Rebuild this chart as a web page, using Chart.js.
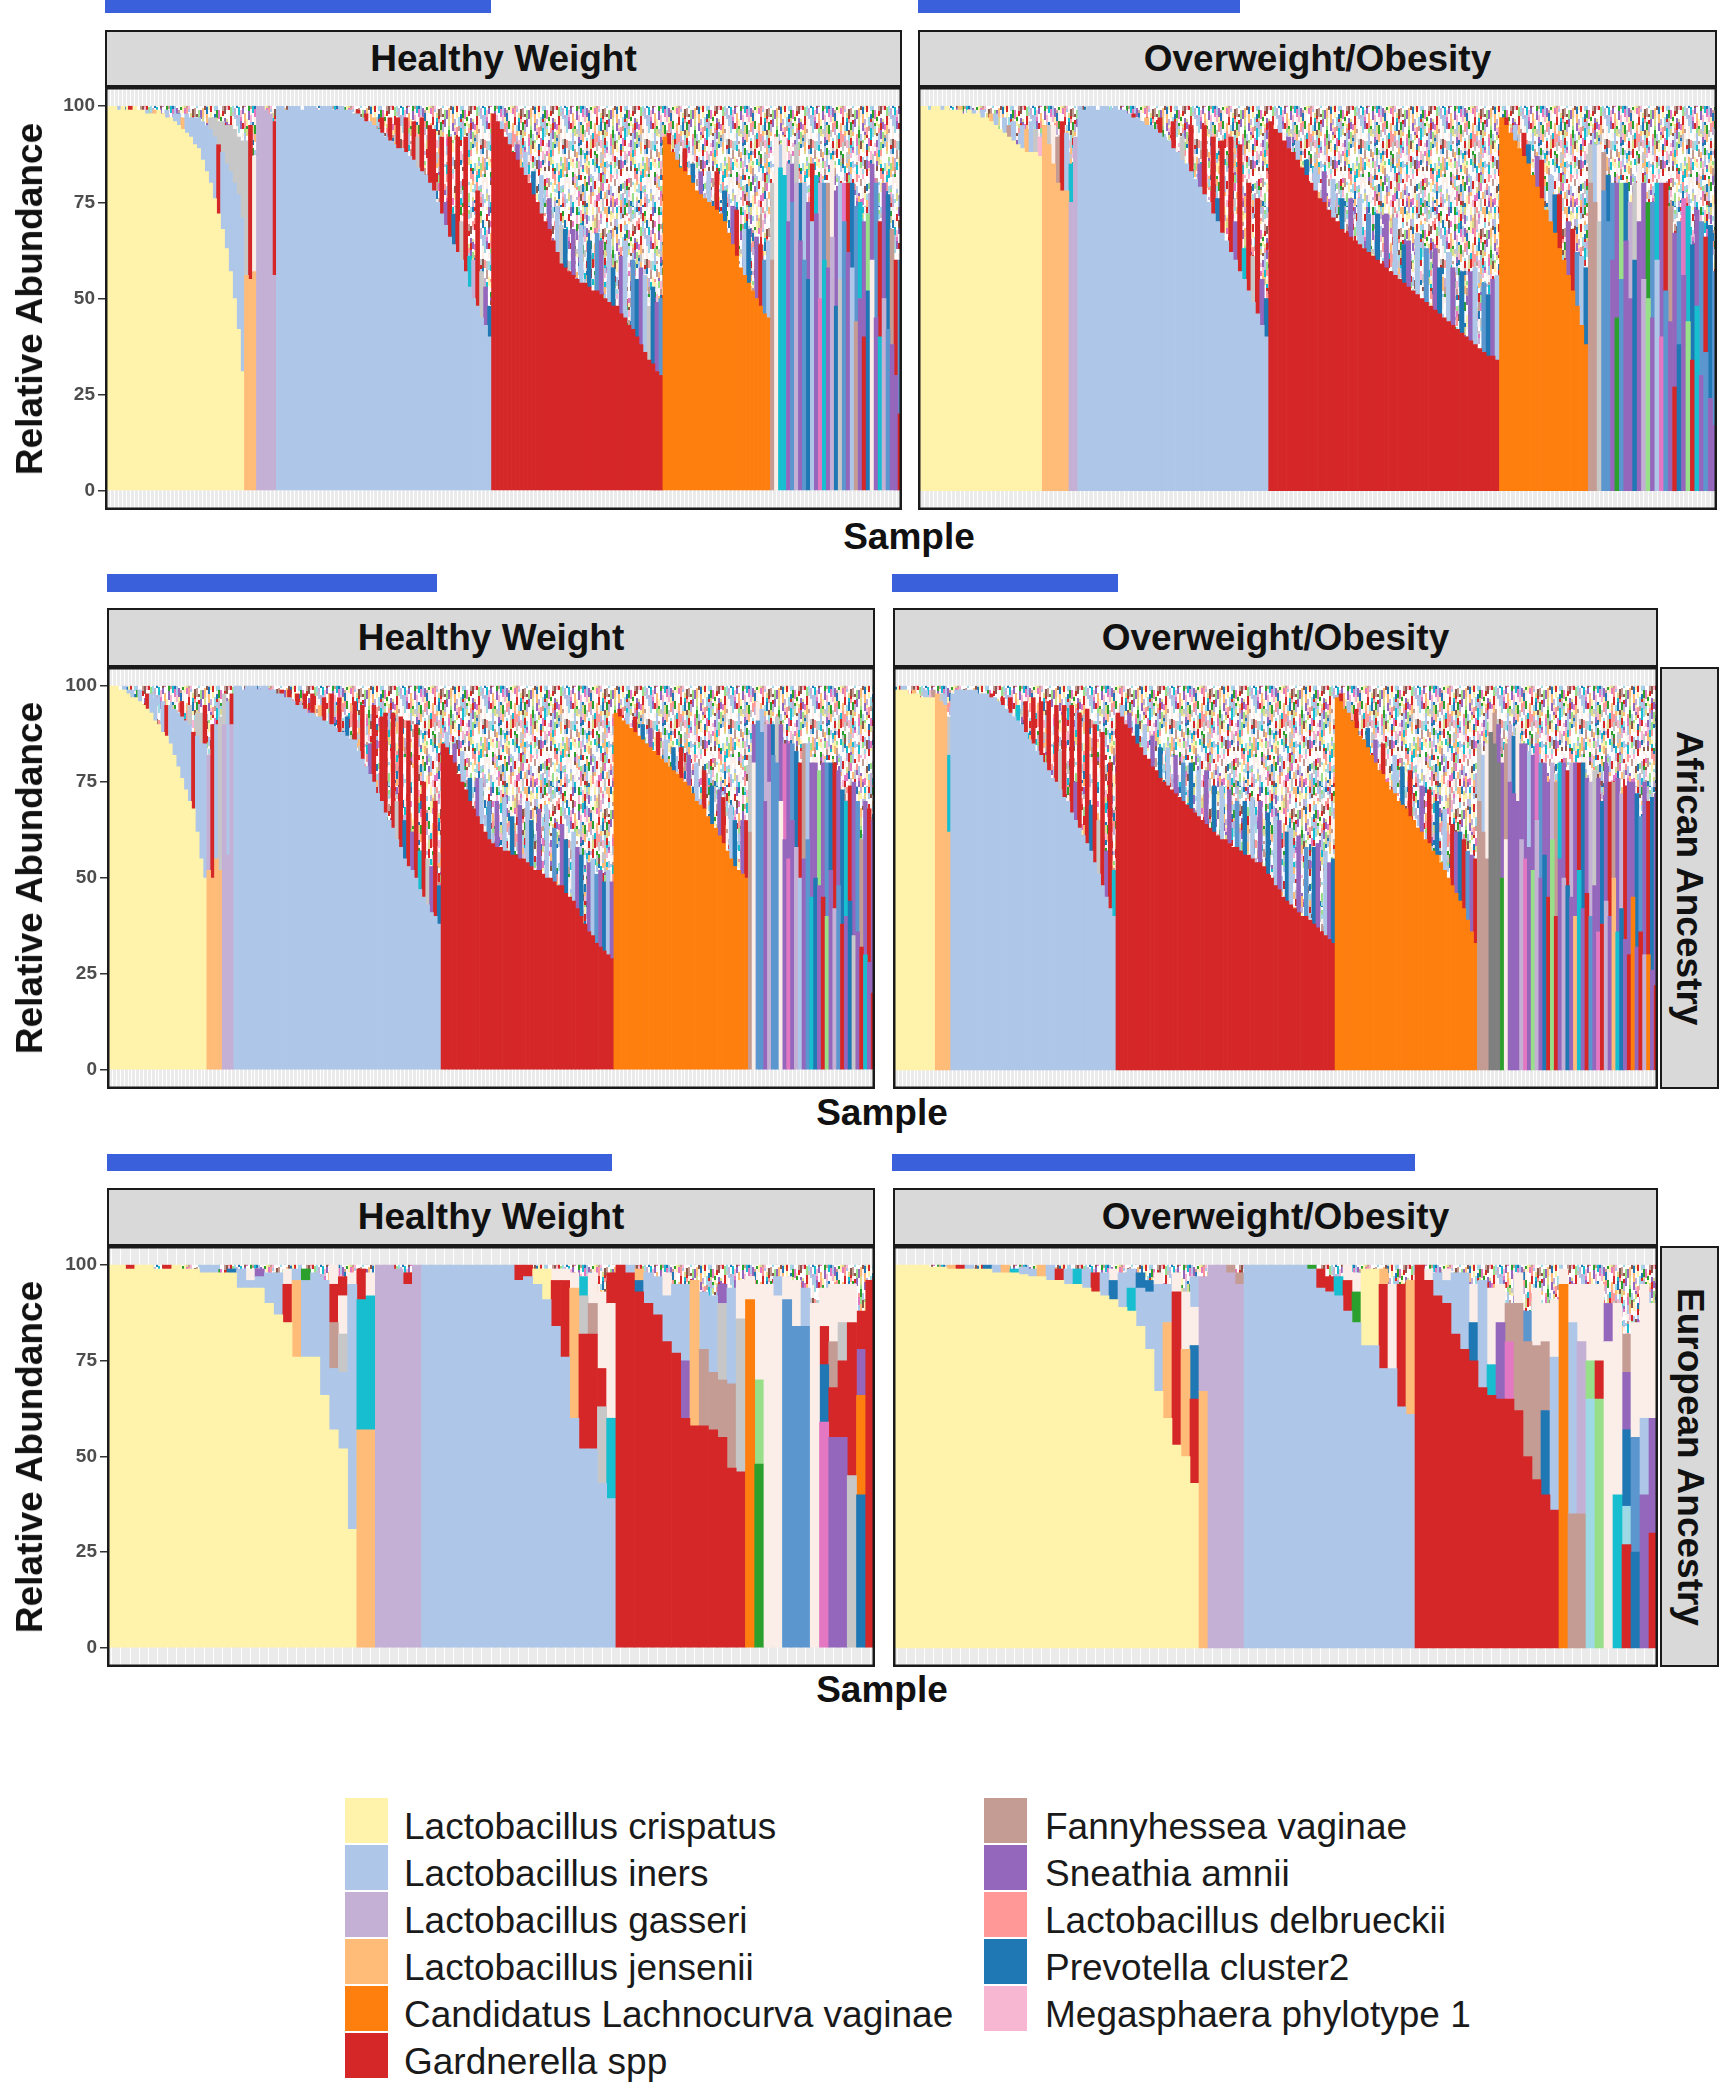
<!DOCTYPE html>
<html lang="en">
<head>
<meta charset="UTF-8">
<title>Relative abundance by BMI group and ancestry</title>
<script src="https://cdn.jsdelivr.net/npm/chart.js"></script>
<style>
  body { margin: 0; background: #fff; font-family: 'Liberation Sans', Arial, sans-serif; }
  #page { position: relative; width: 1735px; height: 2100px; overflow: hidden; }
  canvas { position: absolute; }
  .blue { position: absolute; background: #3b60dc; }
  .strip {
    position: absolute; box-sizing: border-box; background: #d9d9d9;
    border: 2.5px solid #1a1a1a; font-weight: bold; font-size: 37px; color: #111;
    display: flex; align-items: center; justify-content: center; white-space: nowrap;
  }
  .strip.side span { transform: rotate(90deg); display: block; }
  .ytitle { position: absolute; font-weight: bold; font-size: 37px; color: #111; white-space: nowrap;
    transform: translate(-50%, -50%) rotate(-90deg); }
  .xtitle { position: absolute; font-weight: bold; font-size: 37px; color: #111; white-space: nowrap;
    transform: translate(-50%, -50%); }
  .sw { position: absolute; width: 43px; height: 45px; }
  .lt { position: absolute; font-size: 37px; color: #1a1a1a; white-space: nowrap; transform: translateY(-50%); }
</style>
</head>
<body>
<div id="page"></div>
<script>
// species shown in the legend (code letter used in the sample strings below)
const speciesCodes = ['C', 'I', 'A', 'J', 'L', 'V', 'F', 'S', 'D', 'P', 'M'];
const speciesNames = [
  'Lactobacillus crispatus', 'Lactobacillus iners', 'Lactobacillus gasseri',
  'Lactobacillus jensenii', 'Candidatus Lachnocurva vaginae', 'Gardnerella spp',
  'Fannyhessea vaginae', 'Sneathia amnii', 'Lactobacillus delbrueckii',
  'Prevotella cluster2', 'Megasphaera phylotype 1'
];
// minor taxa that appear in the bars but not in the legend
const minorCodes = ['c', 'q', 'g', 'l', 'k', 'K', 'p', 'o', 'b', 'w', 'n'];

const facetCols = ['Healthy Weight', 'Overweight/Obesity'];
const facetRows = ['', 'African Ancestry', 'European Ancestry'];
const yTicks = [0, 25, 50, 75, 100];

// one token per sample, segments "code+value" from the bottom up; the rest to 100 is other taxa
const allHealthy = `
C100 C100 C100 C99+I1 C100 C99 C99+V1 C100 C99 C99 C98+I1 C98 C98+J1 C99 C98 C97+I2 C97 C96+I2
C95+I3 C94+J3 C93+I5 C92+I5 C90+I7 C89+I8 C86+I10 C83+I12 C80+I14+k3 C76+I16+k5 C72+V18+k6
C68+I20+k8 C63+I22+k10 C57+I26+k12 C50+I30+k14 C42+I35+k15 C31+I40+k20
J56+k35 J55+V40 J57+w30 A100 A100 A99 A98 A56+V40
I100 I100 I99 I100 I100 I100 I99 I100 I100 I100 I99 I100 I100 I100 I99 I99 I100 I99
I99 I98 I98+V1 I97 I96+V2 I96 I95+J2 I94 I93+V4 I92 I91+V6 I90 I89+V8 I89
I88+V9 I87 I86+V10 I84+k8 I83+V14 I82 I80+V15 I78+V16 I75 I72+V20 I69+S6 I66+V26 I64+P8 I62+V30
I60+k10 I57+V35 I53+c8 I50+A10 I48+V30 I45+k12 I43+S10 I40+P8
V98 V96 V94+I2 V92 V90+I3 V88 V86+S4 V84 V82+I6 V80 V77+P6 V75 V72+I10 V70
V68+S8 V65 V62+I12 V59+k10 V58+P10 V57 V56+S12 V55 V54+I15 V54 V53+P12 V52 V52+b15
V51+S14 V50 V49+I18 V48+P10 V48 V46+S15 V45+I20 V43 V42+b18
V40+P15 V38+S20 V36+I20 V34+k14 V33+P20 V31+S18 V30+b20
L92 L90+V3 L88 L86+I4 L84 L83+V6 L82 L80+P5 L78 L77+S6 L76 L75+I8 L74 L73+V10 L72 L70+P8
L67 L64+S10 L61+V12 L58 L56+I12 L54+P14 L52 L50+S16 L48+V16 L46+b14 L45+I20
F60+k20 w92 c84+I6 c82+w10 S70+A15 b75+S10 A80+k10 S65+P15 b60+I20 P55+S20 I70+V15 S72+c10
p50+A30 c60+b20 S58+F22 A66+w20 P48+S30 k55+I25 b70+p10 S62+V18 I58+P22 F44+b30 S50+c25
V40+S30 P52+l20 w60+S25 S45+b35 c40+V30 A50+S30 b42+P35 S38+F30 S30+V30 V20+b40`;

const allOverweight = `
C100 C100 C99 C100 C100 C99+I1 C100 C99 C99 C99+J1 C98 C99 C98+I1 C98 C97+I2 C97 C96+J2 C95+I3
C94 C93+I4 C92+F3 C91+I5 C90 C89+I6 C88+J6 C88+I8 C88+k6 C87+M5
J95 J90+k5 J85+w10 J80+F12 J78+V18 J78+I15 A75+c10 A92
I100 I99 I100 I100 I99 I100 I100 I99 I100 I99 I99 I98 I97+V1 I97 I96 I95+J2 I95 I94
I93+V4 I92 I91 I89+V7 I88 I86+k6 I85 I83+V12 I81 I79+S6 I77+V18 I75 I72+V20 I70+P6
I67+V24 I65 I62+V30 I60+S10 I57+V33 I55+c8 I52+V28 I49+k12 I46+V30 I43+S12 I40+P10
V96 V94 V93+I2 V91 V89+S3 V88 V86+I5 V84 V82+P4 V80 V78+I6 V76 V75+S8 V73 V71+I10 V70 V68+P8
V67 V66+S10 V65 V64+I12 V63 V62+b10 V61 V60+P12 V59 V58+S14 V57 V56+I15 V55 V54+P10
V53+S12 V52 V51+I16 V50 V49+b14 V48 V47+S16 V46+P12 V45 V44+I18 V43+S15 V42 V41+P16 V40
V39+S18 V38+I20 V37 V36+b18 V35+P16 V35+S20 V34+I22
L97 L95+V2 L93 L91+I4 L89 L87+V6 L85+P5 L82 L79+S8 L76+V10 L73 L70+I12 L67+P10 L63+V14
L60 L56+S14 L52+V16 L48+b14 L43+I18 L38+P20
F80+k10 F75+I15 k70+w20 b78+F10 b70+P12 S60+b20 g45+S35 b55+l25 S65+P15 S50+A25 P60+k20
S70+w15 A55+S25 l50+g25 S45+b30 I60+c20 p40+S40 b52+V28 S44+F30 V27+S40 P38+b32 S56+p20
l44+c30 V34+P30 c48+S25 S30+b40 b36+V30 S24+P45 S17+b40`;

const africanHealthy = `
C100 C100 C100 C99 C99+I1 C98+I1 C97+I2 C97 C96+I3 C95 C94+V4 C93+I5 C91+I6 C90 C88+I8 C87+V8
C85+I10 C82+I12 C79+I14 C76+I16+V4 C73+I18 C70+I20+k5 C68+V20 C62+I25+k6 C55+I30+k8 C50+I35+V10
J52+A30 J50+V40 J55+I35 J52+k40 A90+k8 A56+I40 A90+V8
I100 I100 I99 I100 I100 I100 I99 I100 I100 I99 I99 I98 I98+V1 I97 I97+V2 I96
I95+V3 I95 I94+V4 I93 I93+V5 I92 I92+J3 I91+V6 I90 I90+V8 I89 I88+V9 I88 I87+P5 I86 I86+V10
I83 I81+V14 I79 I77+S8 I75+V20 I72 I70+V22 I67+V26 I65 I63+V30 I60+k10 I58+V34 I55+P10
I53+V38 I52+S10 I50+V40 I47+c10 I45+V30 I43+k12 I41+S12 I40+V30 I38+P10
V85 V84+I4 V82 V80+S5 V77 V75+I8 V73 V70+P6 V68 V66+S10 V64+I12 V62 V60+b10 V59
V58+S12 V58 V57+I14 V57 V56+P10 V56 V55+S14 V55 V54+I16 V53+P12 V52 V52+S16 V51 V50+I18 V50
V49+b14 V48 V48+S16 V46+P14 V45 V44+I18 V42+S16 V40+P16 V38 V36+S18 V35+I20
V33+b18 V32+S20 V31+P18 V30+I22 V29+S20
L93 L92+V2 L91 L90+I3 L89 L88+V4 L87 L86+P4 L85 L84+S5 L83 L82+V6 L81 L80+I6 L79 L78+P6
L77 L76+V8 L75 L74+S8 L72 L70+I10 L69 L68+V10 L66 L64+P10 L63 L61+S12 L59+V12 L57 L55+I14
L53+P12 L52 L51+S14 L50+V15
F62+k20 w80+S10 b91+w5 b88+I6 S70+A20 A75+S15 b82+P8 b80+k12 w70+S20 S60+p25 p55+S30 S65+b20
A58+P25 I50+V30 S55+F30 b60+I25 c45+S35 P50+S30 S48+l30 V45+S35 l40+b40 S52+P28 A42+V38
b48+S30 V38+P35 S40+c30 P44+V30 k35+S40 S36+b34 V32+F28 c30+S40 S28+V40 V20+S45`;

const africanOverweight = `
C99 C99 C99+I1 C99 C98 C98+J1 C98 C97 C97+I2 C97 C97+F2
J98 J96+k2 J95+I3 J62+c20+k10
I98 I99 I99 I99 I99 I99 I99 I98 I98 I98 I97+V1 I97 I96 I95+V2 I94 I93+V4 I92 I91+c4 I90
I88+V8 I86 I85+V12 I83 I82+V14 I80 I78+V18 I76 I75+V20 I73+k10 I71+V24 I70
I67+V28 I65+S10 I63+V30 I61 I59+V35 I57+P12 I54+V36 I51+k14 I48+V40 I45+S12 I42+V38 I40+c12
V93 V92+I3 V90 V89+S4 V87 V85+P5 V84 V82+I8 V81 V79+S8 V78 V76+P8 V75 V74+I10 V73 V72+S10
V71 V70+b10 V69 V68+P12 V67 V66+I12 V65 V64+S14 V63 V62+P12 V61 V60+I14 V60 V59+S14 V58
V58+b12 V57 V56+P14 V56 V55+I16 V54 V54+S16 V53 V51+P16 V50 V48+I18 V47+S18 V45 V44+P18
V43+I20 V42 V41+S20 V40 V40+b18 V39 V38+P20 V37+S22 V36 V35+I22 V34+S20 V33+P22
L97 L96+V2 L94 L93+I3 L91 L89+V5 L87 L86 L84+P5 L82 L80+S6 L78 L77+V8 L75 L73 L72+I10 L70
L69+P10 L68 L66+V12 L65 L63 L62+S12 L60 L59+V14 L57 L56+P14 L54 L52+I16 L50 L48+V16 L46+S16
L44+P18 L42+V18 L39+b18 L36+S20 L33+V22
F70+k15 F62+I20 F55+w30 K88+w6 K85+F8 K80+S10 g50+S30 w60+F25 S75+A15 S72+P15 S70+w20
A60+S25 p55+S30 S58+I25 l52+S30 A65+p20 S50+b30 P56+S24 V45+S30 l60+A20 V40+F35 S55+c25
A50+S30 P48+V30 S45+A35 J40+S40 c52+V28 S42+P38 V46+S30 b40+A35 S48+k30 p36+S40 V38+P32
A44+S36 S40+V35 J50+F25 c36+S40 P42+A30 S34+V40 V30+S45 L45+S30 S32+P40 V36+b30 A30+S45
L30+V40 S26+P45 V22+S50`;

const europeanHealthy = `
C100 C100 C99+V1 C100 C100 C99 C99+V1 C100 C99 C99 C98+I2 C98+I2 C98 C98+P1 C94+I5 C94+I2+w3
C94+I3+S2 C90+I8 C87+I11 C85+V10+w4 C76+J20+I3 C76+I20+g3 C76+I22 C66+I30 C57+I16+F12+V10+w5
C52+I20+k10+w10+V5 C31+I64+w3
J57+c34+V8 J57+c35+w6 A100 A100 A99 A95+V3 A100
I100 I100 I100 I100 I100 I100 I100 I100 I100 I100 I96+V4 I97+V3 I95+C4 I91+C8 I84+V12+w3
I76+V20+w3 I60+J34+w4 I52+V30+k10+c5 I52+V30+F8+w8 I43+k20+V10+w20 I39+c21+w30+V8
V100 V98+I2 V93+P3+J3 V90+I8 V87+I10 V80+I12+w6 V77+I18 V60+S15+I20 V58+J38 V58+F20+I15
V57+F15+I20 V55+F15+k20+S5 V47+F22+I25 V46+k40+w10
L91+w6 g48+l22+w25 w95 w92+I5 b91+w6 b84+w12 b84+I10 w90 p59+P15+V10+w10 S55+V13+F12+w15
S55+V20+k10+w10 k45+V40+w10 P40+L26+S12+V10 V96`;

const europeanOverweight = `
C100 C100 C100 C100 C99.5 C99.5 C99+J1 C99+V1 C99+I1 C99 C99+P1 C98+I2 C98+J2 C98+c1 C97.5+I2
C97+I2 C97+J3 C96+I4 C96+V3 C95+I4 C95+c4 C94+I5 C93+V5 C92+I6 C91+P5+w3 C89+I9 C88+c6+I5
C84+I10+P4 C78+I15+P3 C67+I28+w3 C60+J25+I10 C53+V40+w5 C50+J28+w15 C43+V22+P14+w10+I8
J67+A30 A100 A100 A98+F2 A95+F3
I100 I100 I100 I100 I100 I100 I100 I99+g1 I94+V5 I93+V4 I92+c5 I88+V8+w4 I85+g8+w5 I79+C20
I79+C20 I73+V22+J4 I73+w22 I63+V32 I61+J35
V100 V96+w3 V92+I6 V90+I6+w3 V82+I16 V78+I20 V75+P10+w10 V68+I28 V66+c8+w20 V65+S20+w10
V65+p15+F10 V62+F28+w8 V50+F30+b8 V44+F35+w15 V40+P22+F18+w10 V36+I40+w15
L95+w4 F35+I50+w10 F35+A45+w15 q65+l10+w20 l65+V10+w20 w80+S10 c40+w50 V27+q10+P20+S15+F10
P25+b30+w30 S40+I20+w35 V30+S30+w30`;

// ---- styles ----
const speciesColors = ['#fff2aa', '#aec7e8', '#c5b0d5', '#ffbb78', '#ff7f0e', '#d62728',
  '#c49c94', '#9467bd', '#ff9896', '#1f77b4', '#f7b6d2'];
const minorColors = ['#17becf', '#9edae5', '#2ca02c', '#98df8a', '#c7c7c7', '#7f7f7f',
  '#e377c2', '#bcbd22', '#5b96cf', '#fbeee8', '#8c564b'];
const confettiColors = ['#ffffff', '#ffffff', '#fdf0ea', '#aec7e8', '#ffffff', '#f7b6d2', '#1f77b4',
  '#ffffff', '#c49c94', '#98df8a', '#ffffff', '#9467bd', '#fff2ae', '#ffffff', '#17becf', '#c5b0d5',
  '#ffbb78', '#ffffff', '#e377c2', '#ff9896', '#dbdb8d', '#fdf0ea', '#d62728', '#9edae5', '#ffffff',
  '#8c564b', '#aec7e8', '#2ca02c', '#ffffff', '#fdf0ea', '#c7c7c7', '#ffffff'];

const colourOf = {};
speciesCodes.forEach((c, i) => { colourOf[c] = speciesColors[i]; });
minorCodes.forEach((c, i) => { colourOf[c] = minorColors[i]; });

const page = document.getElementById('page');
Chart.defaults.font.family = "'Liberation Sans', Arial, sans-serif";

function parseSamples(str) {
  return str.trim().split(/\s+/).map(tok =>
    tok.split('+').map(seg => ({ code: seg[0], value: parseFloat(seg.slice(1)) })));
}

// integer hash, only used to scatter the fill colours of the speckle texture
function hash(a, b) {
  let h = (a * 374761393 + b * 668265263) | 0;
  h = Math.imul(h ^ (h >>> 13), 1274126177);
  return (h ^ (h >>> 16)) >>> 0;
}

// speckled fill for the many small taxa on top of each bar (short vertical runs)
function makeConfetti() {
  const cw = 2, cols = 41, height = 120;
  const c = document.createElement('canvas');
  c.width = cw * cols; c.height = height;
  const g = c.getContext('2d');
  for (let i = 0; i < cols; i++) {
    let y = 0, k = 0;
    while (y < height) {
      const h = hash(i, k);
      const len = 3 + (h % 7);
      g.fillStyle = confettiColors[(h >>> 5) % confettiColors.length];
      g.fillRect(i * cw, y, cw, len);
      y += len; k++;
    }
  }
  return g.createPattern(c, 'repeat');
}
const confetti = makeConfetti();

function buildDatasets(samples) {
  const depth = Math.max(...samples.map(s => s.length));
  const sets = [];
  for (let k = 0; k < depth; k++) {
    sets.push({
      data: samples.map(s => s[k] ? s[k].value : null),
      backgroundColor: samples.map(s => s[k] ? colourOf[s[k].code] : 'rgba(0,0,0,0)')
    });
  }
  sets.push({
    data: samples.map(s => {
      const rest = 100 - s.reduce((a, g) => a + g.value, 0);
      return rest > 0 ? rest : null;
    }),
    backgroundColor: confetti
  });
  return sets;
}

const panelFrame = {
  id: 'panelFrame',
  beforeDraw(chart) {
    const a = chart.chartArea, ctx = chart.ctx;
    ctx.save();
    ctx.fillStyle = '#ebebeb';
    ctx.fillRect(a.left, a.top, a.right - a.left, a.bottom - a.top);
    ctx.restore();
  },
  afterDraw(chart) {
    const a = chart.chartArea, ctx = chart.ctx;
    ctx.save();
    ctx.lineWidth = 2.5;
    ctx.strokeStyle = '#1a1a1a';
    ctx.strokeRect(a.left + 1.25, a.top + 1.25, a.right - a.left - 2.5, a.bottom - a.top - 2.5);
    ctx.restore();
  }
};

function makePanel(p) {
  const samples = parseSamples(p.data);
  const axisW = p.axis ? 65 : 0;
  const cv = document.createElement('canvas');
  cv.width = (p.x1 - p.x0) + axisW;
  cv.height = p.y1 - p.y0;
  cv.style.left = (p.x0 - axisW) + 'px';
  cv.style.top = p.y0 + 'px';
  page.appendChild(cv);
  new Chart(cv, {
    type: 'bar',
    data: { labels: samples.map((_, i) => 'S' + (i + 1)), datasets: buildDatasets(samples) },
    options: {
      responsive: false,
      animation: false,
      devicePixelRatio: 1,
      layout: { padding: 0 },
      plugins: { legend: { display: false }, tooltip: { enabled: false } },
      datasets: { bar: { barPercentage: 1, categoryPercentage: 1, borderWidth: 0 } },
      scales: {
        x: {
          stacked: true,
          grid: { offset: false, color: '#ffffff', lineWidth: 1, drawTicks: false },
          border: { display: false },
          ticks: { display: false },
          afterFit: s => { s.height = 0; s.paddingLeft = 0; s.paddingRight = 0; }
        },
        y: {
          stacked: true,
          display: p.axis,
          min: -5,
          max: 105,
          afterBuildTicks: s => { s.ticks = yTicks.map(v => ({ value: v })); },
          afterFit: s => { s.width = axisW; s.paddingTop = 0; s.paddingBottom = 0; },
          grid: { drawOnChartArea: false, drawTicks: true, tickLength: 7, color: '#333', lineWidth: 1.5 },
          border: { display: false },
          ticks: { color: '#4d4d4d', font: { size: 19, weight: 'bold' }, padding: 3 }
        }
      }
    },
    plugins: [panelFrame]
  });
}

function addDiv(cls, x, y, w, h, html) {
  const d = document.createElement('div');
  d.className = cls;
  d.style.left = x + 'px'; d.style.top = y + 'px';
  if (w != null) d.style.width = w + 'px';
  if (h != null) d.style.height = h + 'px';
  if (html != null) d.innerHTML = html;
  page.appendChild(d);
  return d;
}

// ---- layout ----
const rowsLayout = [
  { strip: [30, 87], plot: [87, 510], cols: [[105, 902], [918, 1717]], blueY: [0, 13],
    blue: [[105, 491], [918, 1240]], sampleY: 537, sampleX: 909,
    left: allHealthy, right: allOverweight },
  { strip: [608, 667], plot: [667, 1089], cols: [[107, 875], [893, 1658]], blueY: [574, 592],
    blue: [[107, 437], [892, 1118]], sampleY: 1113, sampleX: 882,
    left: africanHealthy, right: africanOverweight },
  { strip: [1188, 1246], plot: [1246, 1667], cols: [[107, 875], [893, 1658]], blueY: [1154, 1171],
    blue: [[107, 612], [892, 1415]], sampleY: 1690, sampleX: 882,
    left: europeanHealthy, right: europeanOverweight }
];

rowsLayout.forEach((r, ri) => {
  [r.left, r.right].forEach((data, ci) => {
    const [x0, x1] = r.cols[ci];
    const [b0, b1] = r.blue[ci];
    addDiv('blue', b0, r.blueY[0], b1 - b0, r.blueY[1] - r.blueY[0]);
    addDiv('strip', x0, r.strip[0], x1 - x0, r.strip[1] - r.strip[0], facetCols[ci]);
    makePanel({ data, x0, x1, y0: r.plot[0], y1: r.plot[1], axis: ci === 0 });
  });
  if (facetRows[ri]) {
    addDiv('strip side', 1660, r.plot[0], 59, r.plot[1] - r.plot[0], '<span>' + facetRows[ri] + '</span>');
  }
  addDiv('ytitle', 30, (r.plot[0] + r.plot[1]) / 2, null, null, 'Relative Abundance');
  addDiv('xtitle', r.sampleX, r.sampleY, null, null, 'Sample');
});

// ---- legend (two columns, filled top to bottom) ----
const legendCols = [{ sw: 345, tx: 404 }, { sw: 984, tx: 1045 }];
speciesNames.forEach((name, i) => {
  const col = i < 6 ? 0 : 1;
  const row = col === 0 ? i : i - 6;
  const top = 1798 + row * 47;
  const s = addDiv('sw', legendCols[col].sw, top);
  s.style.background = speciesColors[i];
  addDiv('lt', legendCols[col].tx, top + 29, null, null, name);
});
</script>
</body>
</html>
